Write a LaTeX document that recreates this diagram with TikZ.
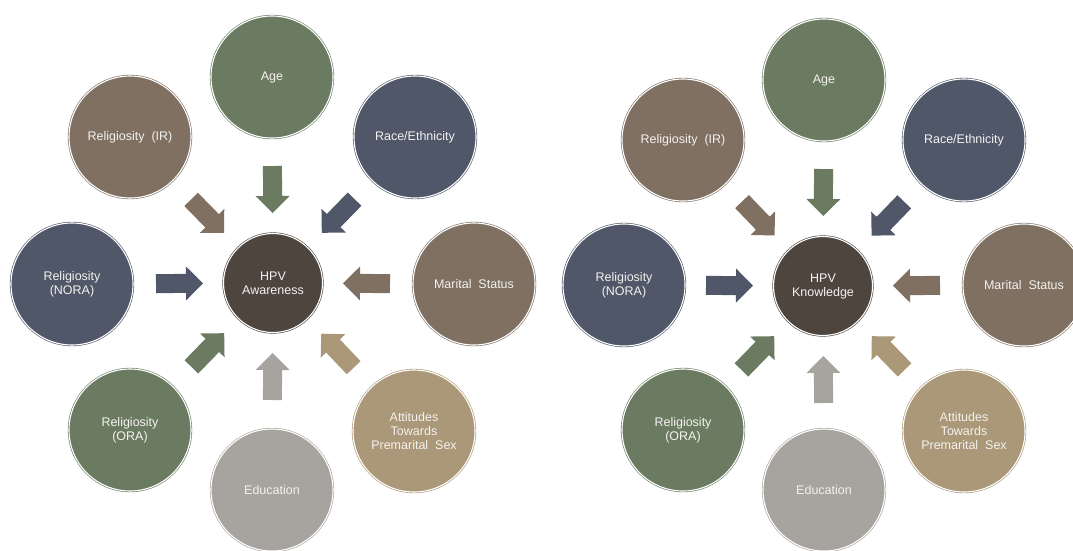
\documentclass[tikz,border=0pt]{standalone}
\usepackage{fontspec}
\setmainfont{Liberation Sans}
\usetikzlibrary{calc}
\definecolor{cgreen}{HTML}{6B7B62}
\definecolor{cbrown}{HTML}{7F7062}
\definecolor{cslate}{HTML}{4F5769}
\definecolor{ctan}{HTML}{AB9878}
\definecolor{cgray}{HTML}{A7A39E}
\definecolor{cdark}{HTML}{4E453F}
\definecolor{ctext}{HTML}{F4F2EF}
\tikzset{
  ringnode/.style={circle, inner sep=0pt, minimum size=122pt, fill=#1, draw=#1,
    double=white, double distance=1.1pt, line width=0.6pt, align=center, text=ctext,
    font=\fontsize{12.5}{14}\selectfont},
  hubnode/.style={ringnode=cdark, minimum size=99pt}
}
\newcommand{\blockarrow}[3]{%
  \coordinate (T) at ($(#1)!117pt!(#2)$);
  \coordinate (P) at ($(#1)!70pt!(#2)$);
  \coordinate (N) at ($(T)!30pt!(P)$);
  \fill[#3] ($(T)!9.5pt!90:(P)$) -- ($(N)!9.5pt!90:(P)$) -- ($(N)!17pt!90:(P)$) -- (P)
    -- ($(N)!17pt!-90:(P)$) -- ($(N)!9.5pt!-90:(P)$) -- ($(T)!9.5pt!-90:(P)$) -- cycle;
}
\begin{document}
\begin{tikzpicture}[x=1pt,y=-1pt]
\useasboundingbox[fill=white] (0,0) rectangle (1073,550);
% left diagram
\node[hubnode] (hubA) at (273,283) {HPV\\Awareness};
\node[ringnode=cgreen] (ageA) at (272,77) {Age};
\node[ringnode=cbrown] (irA) at (130,137) {Religiosity\ \ (IR)};
\node[ringnode=cslate] (raceA) at (415,137) {Race/Ethnicity};
\node[ringnode=cbrown] (marA) at (474,284) {Marital\ \ Status};
\node[ringnode=ctan] (attA) at (414,431) {Attitudes\\Towards\\Premarital\ \ Sex};
\node[ringnode=cgray] (eduA) at (272,490) {Education};
\node[ringnode=cgreen] (oraA) at (130,430) {Religiosity\\(ORA)};
\node[ringnode=cslate] (noraA) at (72,284) {Religiosity\\(NORA)};
\blockarrow{hubA}{ageA}{cgreen}
\blockarrow{hubA}{irA}{cbrown}
\blockarrow{hubA}{raceA}{cslate}
\blockarrow{hubA}{marA}{cbrown}
\blockarrow{hubA}{attA}{ctan}
\blockarrow{hubA}{eduA}{cgray}
\blockarrow{hubA}{oraA}{cgreen}
\blockarrow{hubA}{noraA}{cslate}
% right diagram
\node[hubnode] (hubB) at (823,286) {HPV\\Knowledge};
\node[ringnode=cgreen] (ageB) at (824,80) {Age};
\node[ringnode=cbrown] (irB) at (683,140) {Religiosity\ \ (IR)};
\node[ringnode=cslate] (raceB) at (964,140) {Race/Ethnicity};
\node[ringnode=cbrown] (marB) at (1024,285) {Marital\ \ Status};
\node[ringnode=ctan] (attB) at (964,431) {Attitudes\\Towards\\Premarital\ \ Sex};
\node[ringnode=cgray] (eduB) at (824,490) {Education};
\node[ringnode=cgreen] (oraB) at (683,430) {Religiosity\\(ORA)};
\node[ringnode=cslate] (noraB) at (624,285) {Religiosity\\(NORA)};
\blockarrow{hubB}{ageB}{cgreen}
\blockarrow{hubB}{irB}{cbrown}
\blockarrow{hubB}{raceB}{cslate}
\blockarrow{hubB}{marB}{cbrown}
\blockarrow{hubB}{attB}{ctan}
\blockarrow{hubB}{eduB}{cgray}
\blockarrow{hubB}{oraB}{cgreen}
\blockarrow{hubB}{noraB}{cslate}
\end{tikzpicture}
\end{document}
